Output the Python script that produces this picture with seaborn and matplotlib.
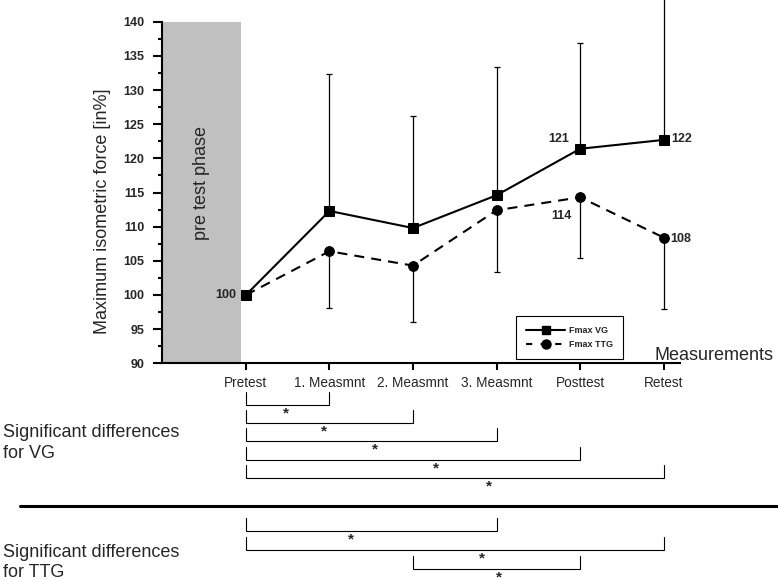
import numpy as np
import pandas as pd
import matplotlib
matplotlib.use("Agg")
import matplotlib.pyplot as plt
import seaborn as sns
from matplotlib.lines import Line2D
from matplotlib.ticker import MultipleLocator

# values
measurements = ["Pretest", "1. Measmnt", "2. Measmnt", "3. Measmnt", "Posttest", "Retest"]
fmax_vg = [100, 112.3, 109.8, 114.6, 121.4, 122.7]
fmax_ttg = [100, 106.4, 104.3, 112.4, 114.3, 108.4]
sd_vg = [0, 20.1, 16.4, 18.8, 15.5, 24.0]    # drawn upward only
sd_ttg = [0, 8.3, 8.2, 9.0, 8.9, 10.5]       # drawn downward only

# significance brackets (indices into measurements) + where the star sits
vg_pairs = [(0, 1), (0, 2), (0, 3), (0, 4), (0, 5)]
vg_star_x = [0.48, 0.93, 1.55, 2.27, 2.91]
ttg_pairs = [(0, 3), (0, 5), (2, 4)]
ttg_star_x = [1.26, 2.83, 3.03]

sns.set_style("ticks")
plt.rcParams['font.family'] = ['Liberation Sans', 'DejaVu Sans']

fig = plt.figure(figsize=(7.78, 5.80), dpi=100)
ax = fig.add_axes([0.2086, 0.3736, 0.666, 0.589])

x = np.arange(len(measurements))

# grey "pre test phase" block
ax.axvspan(-1, -0.063, color="#c0c0c0", lw=0, zorder=0)
ax.text(-0.53, 116.4, "pre test phase", rotation=90, ha="center", va="center", fontsize=13)

# error bars
eb1 = ax.errorbar(x[1:], fmax_vg[1:], yerr=[np.zeros(5), sd_vg[1:]], fmt="none",
                  ecolor="black", elinewidth=0.9, capsize=2.5, capthick=0.9, zorder=2)
eb2 = ax.errorbar(x[1:], fmax_ttg[1:], yerr=[sd_ttg[1:], np.zeros(5)], fmt="none",
                  ecolor="black", elinewidth=0.9, capsize=2.5, capthick=0.9, zorder=2)
for eb in (eb1, eb2):
    for c in eb.lines[1]:
        c.set_clip_on(False)
    for c in eb.lines[2]:
        c.set_clip_on(False)

df = pd.DataFrame({
    "pos": list(x) * 2,
    "force": fmax_vg + fmax_ttg,
    "group": ["Fmax VG"] * 6 + ["Fmax TTG"] * 6,
})
sns.lineplot(data=df, x="pos", y="force", style="group",
             markers={"Fmax VG": "s", "Fmax TTG": "o"},
             dashes={"Fmax VG": "", "Fmax TTG": (4.8, 3.4)},
             color="black", linewidth=1.5, markersize=7,
             markeredgecolor="black", legend=False, ax=ax, zorder=3)

# value labels
labels = [(0, fmax_vg, "100", (-10, 0), "right"),
          (4, fmax_vg, "121", (-11, 10), "right"),
          (5, fmax_vg, "122", (8, 1), "left"),
          (4, fmax_ttg, "114", (-9, -19), "right"),
          (5, fmax_ttg, "108", (7, -1), "left")]
for i, series, txt, off, ha in labels:
    ax.annotate(txt, (x[i], series[i]), xytext=off, textcoords="offset pixels",
                ha=ha, va="center", fontsize=9, fontweight="bold")

ax.set_xlim(-1, 5.2)
ax.set_ylim(90, 140)
ax.set_xticks(x, measurements)
ax.yaxis.set_major_locator(MultipleLocator(5))
ax.yaxis.set_minor_locator(MultipleLocator(2.5))
ax.tick_params(axis="y", which="major", length=6.5, width=1.5, labelsize=9, pad=6.5, color="black")
ax.tick_params(axis="y", which="minor", length=3, width=1.5, color="black")
ax.tick_params(axis="x", length=5, width=1.5, labelsize=9.8, pad=4, color="black")
for lbl in ax.get_yticklabels():
    lbl.set_fontweight("bold")
ax.set_xlabel("")
ax.set_ylabel("")
sns.despine(ax=ax)
for s in ("left", "bottom"):
    ax.spines[s].set_linewidth(1.5)
    ax.spines[s].set_color("black")

ax.text(-0.116, 0.444, "Maximum isometric force [in%]", transform=ax.transAxes,
        rotation=90, ha="center", va="center", fontsize=13)
ax.text(0.949, 0.0225, "Measurements", transform=ax.transAxes,
        ha="left", va="center", fontsize=13, clip_on=False)

handles = [Line2D([], [], color="black", lw=1.5, marker="s", markersize=6),
           Line2D([], [], color="black", lw=1.5, ls=(0, (3, 4)), marker="o", markersize=6.5)]
leg = ax.legend(handles, ["Fmax VG", "Fmax TTG"], loc="lower left",
                bbox_to_anchor=(0.683, 0.0126), borderaxespad=0, frameon=True, fancybox=False,
                edgecolor="black", framealpha=1, prop={"weight": "bold", "size": 6.5},
                handlelength=4.3, borderpad=1.1, labelspacing=0.6, handletextpad=0.5)
leg.get_frame().set_linewidth(0.8)

# lower panel: significance brackets, y in pixel rows from the top of the picture
ax2 = fig.add_axes([0.2086, 0.0, 0.666, 208 / 580])
ax2.set_xlim(-1, 5.2)
ax2.set_ylim(580, 372)
ax2.axis("off")


def draw_brackets(pairs, star_x, first_row, row_step):
    for i, ((a, b), sx) in enumerate(zip(pairs, star_x)):
        yb = first_row + i * row_step
        ax2.plot([a, a, b, b], [yb - 13, yb, yb, yb - 13], color="black", lw=0.8,
                 clip_on=False, solid_joinstyle="miter")
        ax2.text(sx, yb + 12.5, "*", ha="center", va="baseline", fontsize=11,
                 fontweight="bold", clip_on=False)


draw_brackets(vg_pairs, vg_star_x, 405, 18.2)
draw_brackets(ttg_pairs, ttg_star_x, 531, 19)

ax2.plot([-2.7, 6.4], [506, 506], color="black", lw=2.2, clip_on=False)

for row, txt in [(437, "Significant differences"), (458, "for VG"),
                 (557, "Significant differences"), (577, "for TTG")]:
    fig.text(0.004, 1 - row / 580, txt, ha="left", va="baseline", fontsize=13)

fig.savefig("out.png", dpi=100)
